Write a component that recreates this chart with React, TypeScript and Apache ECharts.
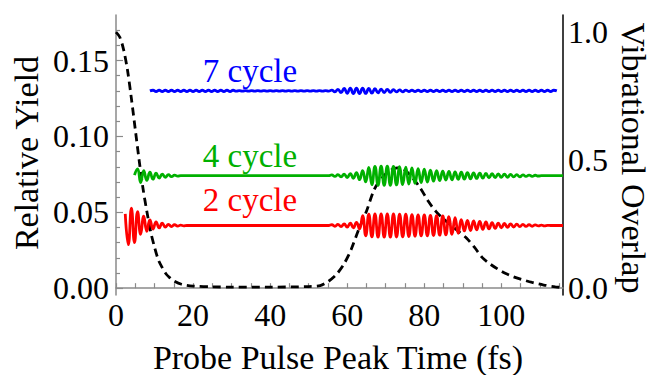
import React, { useEffect, useRef } from "react";
import * as echarts from "echarts";

// Sampling grid of the oscillating traces: one point per half vibrational period (fs)
const STEP = 0.8;

// Tick values
const xLabelTicks = [0, 20, 40, 60, 80, 100];
const xMinorTicks = [0, 5, 10, 15, 20, 25, 30, 35, 40, 45, 50, 55, 60, 65, 70, 75, 80, 85, 90, 95, 100, 105, 110, 115];
const yLeftLabels = [0, 0.05, 0.1, 0.15];
const yLeftMinor = [0.01, 0.02, 0.03, 0.04, 0.06, 0.07, 0.08, 0.09, 0.11, 0.12, 0.13, 0.14, 0.16, 0.17];
const yRightLabels = [0, 0.5, 1.0];

// 2 cycle (red) — extrema
const redEarlyT0 = 2.4;
const redEarly = [
  0.049, 0.0287, 0.0527, 0.030, 0.0505, 0.0355, 0.0475, 0.0375, 0.045, 0.039,
  0.0437, 0.0397, 0.0428, 0.0402, 0.0421, 0.0406, 0.0418, 0.0409, 0.0415, 0.0411, 0.0413,
];
const redLateT0 = 55.2;
const redLate = [
  0.0413, 0.0418, 0.0408, 0.042, 0.0406, 0.0423, 0.0402, 0.0428, 0.0397, 0.0434,
  0.039, 0.0478, 0.0345, 0.0487, 0.0338, 0.049, 0.0336, 0.049, 0.0336, 0.049,
  0.0336, 0.0489, 0.0337, 0.0488, 0.0338, 0.0487, 0.034, 0.0485, 0.0342, 0.0483,
  0.0344, 0.0482, 0.0345, 0.048, 0.0347, 0.0478, 0.0349, 0.0476, 0.0351, 0.0472,
  0.0355, 0.0465, 0.0362, 0.0452, 0.0377, 0.0447, 0.038, 0.0443, 0.0384, 0.044,
  0.0387, 0.0436, 0.0391, 0.0432, 0.0394, 0.0429, 0.0398, 0.0426, 0.0401, 0.0424,
  0.0403, 0.0422, 0.0405, 0.042, 0.0407, 0.0418, 0.0408, 0.0417, 0.041, 0.0416,
  0.0411, 0.0414, 0.0413, 0.0413, 0.0413, 0.0413, 0.0413,
];

// 4 cycle (green)
const greenEarlyT0 = 4.8;
const greenEarly = [
  0.0745, 0.0786, 0.0696, 0.0775, 0.071, 0.0765, 0.0718, 0.0758, 0.0726, 0.0752,
  0.0731, 0.0748, 0.0735, 0.0745, 0.0738, 0.0742, 0.0741,
];
const greenLateT0 = 55.2;
const greenLate = [
  0.0741, 0.0746, 0.0736, 0.0748, 0.0733, 0.0751, 0.0729, 0.0755, 0.0724, 0.0762,
  0.0715, 0.0775, 0.07, 0.0795, 0.0682, 0.0803, 0.0678, 0.0804, 0.0678, 0.0804,
  0.0678, 0.0803, 0.068, 0.08, 0.0683, 0.0797, 0.0686, 0.0792, 0.0691, 0.0788,
  0.0695, 0.0785, 0.0699, 0.0778, 0.0705, 0.0774, 0.0709, 0.0771, 0.0712, 0.0769,
  0.0714, 0.0766, 0.0717, 0.0764, 0.0719, 0.0762, 0.0721, 0.076, 0.0723, 0.0758,
  0.0725, 0.0756, 0.0727, 0.0754, 0.0729, 0.0753, 0.073, 0.0752, 0.0731, 0.075,
  0.0733, 0.0748, 0.0734, 0.0747, 0.0736, 0.0745, 0.0737, 0.0744, 0.0739, 0.0742,
  0.0741, 0.0741, 0.0741, 0.0741, 0.0741, 0.0741, 0.0741,
];

// 7 cycle (blue)
const blueEarlyT0 = 8.8;
const blueEarly = [
  0.13,
  0.1304, 0.1296, 0.1304, 0.1296, 0.1304, 0.1296, 0.1304, 0.1296, 0.1304, 0.1296,
  0.1304, 0.1296, 0.1304, 0.1296, 0.1304, 0.1296, 0.1304, 0.1296, 0.1304, 0.1296,
  0.1304, 0.1296, 0.1304, 0.1296, 0.1304, 0.1296, 0.1304,
  0.1298, 0.1302, 0.1298, 0.1302, 0.1298, 0.1302, 0.1298, 0.1302, 0.1298, 0.1302,
  0.1298, 0.1302, 0.1298, 0.1302, 0.1298, 0.1302, 0.1298, 0.1302, 0.1298, 0.1302,
  0.1298, 0.1302, 0.1298, 0.1302, 0.1298, 0.1302, 0.1298, 0.1302, 0.1298, 0.1302, 0.1298,
];
const blueBurstT0 = 56.0;
const blueBurst = [
  0.1305, 0.1294, 0.131, 0.1288, 0.1316, 0.1284, 0.1318, 0.1282, 0.1318, 0.1282,
  0.1318, 0.1283, 0.1316, 0.1285, 0.1314, 0.1287, 0.1312, 0.1289, 0.131, 0.1291,
  0.1308, 0.1293, 0.1306, 0.1294, 0.1305,
];
const blueTailT0 = 76.0;
const blueTail = [
  0.1296, 0.1304, 0.1296, 0.1304, 0.1296, 0.1304, 0.1296, 0.1304, 0.1296, 0.1304,
  0.1296, 0.1304, 0.1296, 0.1304, 0.1296, 0.1304, 0.1296, 0.1304, 0.1296, 0.1304,
  0.1296, 0.1304, 0.1296, 0.1304, 0.1296, 0.1304, 0.1296, 0.1304, 0.1296, 0.1304,
  0.1296, 0.1304, 0.1296, 0.1304, 0.1296, 0.1304, 0.1296, 0.1304, 0.1296, 0.1304,
  0.1296, 0.1304, 0.1296, 0.1304, 0.1296, 0.1304, 0.1296, 0.1304, 0.13,
];

// Vibrational overlap (dashed, right axis)
const overlapT = [
  0, 1, 2, 3, 4, 5, 6, 7, 8, 9, 10, 11, 12, 13, 14, 15, 17, 20, 25, 30, 40, 50, 53, 55,
  57, 59, 61, 63, 65, 67, 69, 71, 73, 75, 77, 79, 81, 83, 85, 87, 89, 91, 93, 95, 97,
  99, 101, 103, 105, 108, 111, 114, 116,
];
const overlapV = [
  1.0, 0.98, 0.93, 0.85, 0.74, 0.62, 0.5, 0.39, 0.3, 0.22, 0.16, 0.11, 0.08, 0.055,
  0.04, 0.028, 0.015, 0.008, 0.005, 0.004, 0.004, 0.006, 0.01, 0.025, 0.05, 0.09, 0.15,
  0.23, 0.3, 0.385, 0.43, 0.458, 0.47, 0.46, 0.43, 0.39, 0.34, 0.3, 0.27, 0.245, 0.22,
  0.195, 0.16, 0.12, 0.095, 0.075, 0.058, 0.045, 0.035, 0.022, 0.012, 0.005, 0.002,
];

const FONT = '"Liberation Serif", "Times New Roman", serif';

function seg(t0: number, vals: number[]): number[][] {
  return vals.map((v, i) => [Math.round((t0 + i * STEP) * 100) / 100, v]);
}

export default function App() {
  const ref = useRef<HTMLDivElement>(null);
  useEffect(() => {
    if (!ref.current) return;
    document.body.style.margin = "0";
    const chart = echarts.init(ref.current, null, { renderer: "svg" });
    const red = [...seg(redEarlyT0, redEarly), ...seg(redLateT0, redLate)];
    const green = [...seg(greenEarlyT0, greenEarly), ...seg(greenLateT0, greenLate)];
    const blue = [
      ...seg(blueEarlyT0, blueEarly),
      ...seg(blueBurstT0, blueBurst),
      ...seg(blueTailT0, blueTail),
    ];
    const overlap = overlapT.map((t, i) => [t, overlapV[i]]);
    const tickLabel = { color: "#000", fontFamily: FONT, fontSize: 32 };
    const osc = (data: number[][], color: string) => ({
      type: "line",
      data,
      xAxisIndex: 0,
      yAxisIndex: 0,
      showSymbol: false,
      symbol: "none",
      smooth: 0.5,
      lineStyle: { color, width: 2.8 },
      z: 3,
    });
    const txt = (text: string, x: number, y: number, fill: string, fontSize: number, rotation = 0) => ({
      type: "text",
      x,
      y,
      rotation,
      style: {
        text,
        fill,
        fontSize,
        fontFamily: FONT,
        align: "center",
        verticalAlign: "middle",
        textAlign: "center",
        textVerticalAlign: "middle",
      },
    });
    chart.setOption({
      animation: false,
      backgroundColor: "#fff",
      grid: { left: 116, right: 88, top: 15, bottom: 80, outerBoundsMode: "none", containLabel: false },
      xAxis: [
        {
          type: "value",
          min: 0,
          max: 116,
          axisLine: { show: true, lineStyle: { color: "#8a8a8a", width: 1.5 } },
          axisTick: { show: true, inside: true, length: 5, customValues: xMinorTicks, lineStyle: { color: "#8a8a8a", width: 1.2 } },
          axisLabel: { ...tickLabel, margin: 4, customValues: xLabelTicks },
          splitLine: { show: false },
        },
      ],
      yAxis: [
        {
          type: "value",
          position: "left",
          min: -0.0045,
          max: 0.18,
          axisLine: { show: true, lineStyle: { color: "#8a8a8a", width: 1.5 } },
          axisTick: { show: true, inside: true, length: 7, customValues: yLeftLabels, lineStyle: { color: "#8a8a8a", width: 1.2 } },
          axisLabel: { ...tickLabel, margin: 7, customValues: yLeftLabels, formatter: (v: number) => v.toFixed(2) },
          splitLine: { show: false },
        },
        {
          type: "value",
          position: "right",
          min: -0.027,
          max: 1.067,
          axisLine: { show: true, lineStyle: { color: "#000", width: 1.5 } },
          axisTick: { show: false },
          axisLabel: { ...tickLabel, margin: 5, customValues: yRightLabels, formatter: (v: number) => v.toFixed(1) },
          splitLine: { show: false },
        },
        {
          type: "value",
          position: "left",
          min: -0.0045,
          max: 0.18,
          axisLine: { show: false },
          axisTick: { show: true, inside: true, length: 4, customValues: yLeftMinor, lineStyle: { color: "#8a8a8a", width: 1.2 } },
          axisLabel: { show: false },
          splitLine: { show: false },
        },
      ],
      series: [
        {
          type: "line",
          data: overlap,
          xAxisIndex: 0,
          yAxisIndex: 1,
          showSymbol: false,
          symbol: "none",
          smooth: 0.3,
          lineStyle: { color: "#000", width: 2.8, type: [8, 5] },
          z: 2,
        },
        osc(red, "#ff0000"),
        osc(green, "#00b000"),
        osc(blue, "#0000ff"),
      ],
      graphic: [
        txt("7 cycle", 250, 71, "#0000ff", 33),
        txt("4 cycle", 250, 156, "#00b000", 33),
        txt("2 cycle", 250, 200, "#ff0000", 33),
        txt("Relative Yield", 26, 153, "#000", 34, Math.PI / 2),
        txt("Vibrational Overlap", 633, 158, "#000", 34, -Math.PI / 2),
        txt("Probe Pulse Peak Time (fs)", 338, 357, "#000", 34),
      ],
    });
    return () => chart.dispose();
  }, []);
  return <div ref={ref} style={{ position: "fixed", left: 0, top: 0, width: 651, height: 375 }} />;
}
